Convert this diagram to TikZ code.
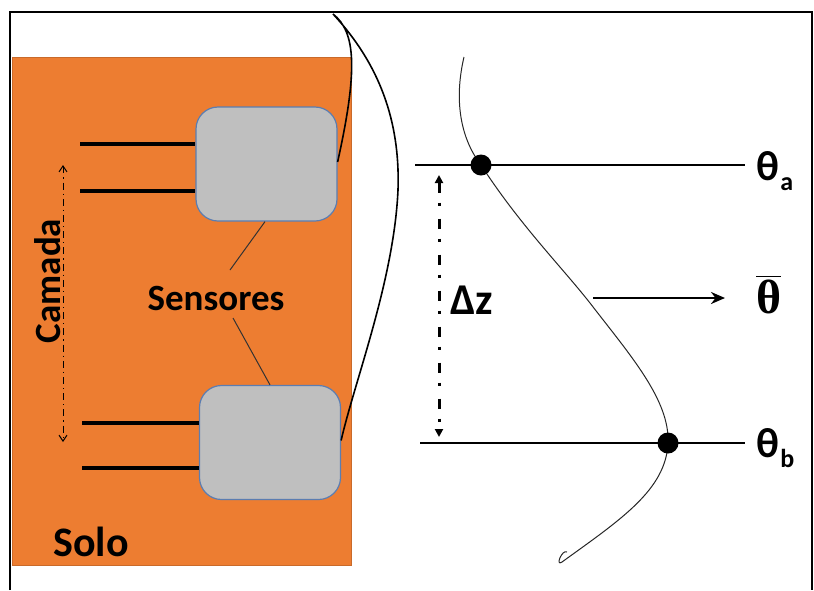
\documentclass[tikz,border=0pt]{standalone}
\usepackage{fontspec}
\setmainfont{Carlito}
\newfontfamily\serifbar{Liberation Serif}
\usetikzlibrary{arrows.meta}
\definecolor{solo}{HTML}{ED7D31}
\definecolor{sensorgray}{HTML}{BFBFBF}
\definecolor{sensoredge}{HTML}{5B7DB1}
\newcommand\thetasub[1]{θ\kern0.6pt\raisebox{-5pt}{\fontsize{13}{15}\selectfont #1}}

\begin{document}
\begin{tikzpicture}[x=0.5pt,y=-0.5pt,
  sensor/.style={draw=sensoredge,line width=0.6pt,fill=sensorgray,rounded corners=11pt,
    minimum width=70.5pt,minimum height=57pt,inner sep=0pt},
  wire/.style={line width=1.65pt},
  leader/.style={black!80,line width=0.5pt},
  level/.style={line width=0.6pt},
  dot/.style={circle,fill=black,inner sep=0pt,minimum size=10.5pt},
  bigtext/.style={font=\bfseries\fontsize{18.5}{22}\selectfont},
  thetatext/.style={font=\bfseries\fontsize{21}{25}\selectfont,anchor=base west,inner sep=0pt}]
\useasboundingbox (0,0) rectangle (814,590);
\draw[line width=1pt] (10,590) -- (10,12) -- (812,12) -- (812,590);

\filldraw[fill=solo,draw=solo!85!black,line width=0.4pt] (12,57) rectangle (351,565);
\node[sensor] (s1) at (266.5,164) {};
\node[sensor] (s2) at (270,442.5) {};

\coordinate (w1) at (80,144);
\coordinate (w2) at (80,191);
\coordinate (w3) at (82,423);
\coordinate (w4) at (82,468);
\draw[wire] (w1) -- (w1 -| s1.west);
\draw[wire] (w2) -- (w2 -| s1.west);
\draw[wire] (w3) -- (w3 -| s2.west);
\draw[wire] (w4) -- (w4 -| s2.west);

\coordinate (c1) at (63,165);
\coordinate (c2) at (63,442);
\draw[{Straight Barb[length=3pt,width=4pt]}-{Straight Barb[length=3pt,width=4pt]},line width=0.5pt,
  dash pattern=on 3.5pt off 2pt on 0.6pt off 2pt] (c1) -- (c2);
\node[bigtext,rotate=90] (camada) at (48,281) {Camada};

\node[bigtext] (sens) at (216,298) {Sensores};
\draw[leader] (230,270) -- ([xshift=-0.75pt]s1.south);
\draw[leader] (233,318) -- (s2.north);

\node[font=\bfseries\fontsize{21}{25}\selectfont] (solo) at (91,542) {Solo};

\draw[line width=0.8pt] ([yshift=1pt]s1.east) .. controls (358,70) and (356,32) .. (333,14)
  .. controls (385,70) and (400,130) .. (398,190)
  .. controls (394,280) and (355,380) .. ([yshift=1pt]s2.east);

\coordinate (pa) at (481,165);
\coordinate (pb) at (668,443);
\draw[level] (415,165) -- (745,165);
\draw[level] (420,443) -- (745,443);
\draw[line width=0.5pt,black!85] (464,57) .. controls (455,95) and (458,135) .. (pa)
  .. controls (520,225) and (560,265) .. (590,303)
  .. controls (630,355) and (670,400) .. (pb)
  .. controls (666,490) and (620,520) .. (562,562)
  .. controls (555,567) and (562,549) .. (567,552);
\node[dot] (da) at (pa) {};
\node[dot] (db) at (pb) {};

\coordinate (z1) at (439,175);
\coordinate (z2) at (439,437);
\draw[{Triangle[length=4pt,width=4pt]}-{Triangle[length=4pt,width=4pt]},line width=1.5pt,
  dash pattern=on 5pt off 5pt on 1.5pt off 6.5pt] (z1) -- (z2);
\node[font=\bfseries\fontsize{22}{26}\selectfont] (dz) at (472,300) {Δz};

\coordinate (m1) at (593,298);
\coordinate (m2) at (725,298);
\draw[-{Stealth[length=7pt,width=6pt]},line width=1.2pt] (m1) -- (m2);

\node[thetatext] (ta) at (756,180) {\thetasub{a}};
\node[thetatext] (tb) at (756,457) {\thetasub{b}};
\node[font=\serifbar\bfseries\fontsize{24}{28}\selectfont,anchor=base west,inner sep=0pt] (tm) at (756,313)
  {$\overline{\mbox{θ}}$};
\end{tikzpicture}
\end{document}
